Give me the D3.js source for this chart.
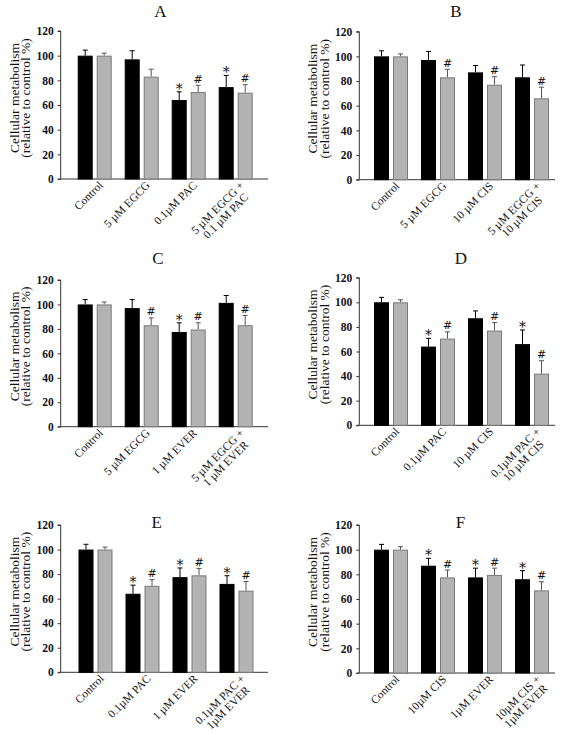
<!DOCTYPE html>
<html><head><meta charset="utf-8">
<script src="https://cdn.jsdelivr.net/npm/d3@7"></script>
<style>
body{margin:0;background:#fff;}
svg{display:block;font-family:"Liberation Serif","Times New Roman",serif;}
</style></head>
<body><svg id="c" width="567" height="735"></svg>
<script>
// ---------- DATA ----------
const yTicks = [0, 20, 40, 60, 80, 100, 120];
const yTitle = ["Cellular metabolism", "(relative to control %)"];

const catsA = ["Control", "5 µM EGCG", "0.1µM PAC", "5 µM EGCG +|0.1 µM PAC"];
const blackA = [100, 97, 64, 74.5];
const blackErrA = [4.5, 7, 6.7, 9.5];
const grayA = [100, 83, 70.5, 70];
const grayErrA = [2, 6, 5.5, 6.5];
const sigBlackA = ["", "", "*", "*"];
const sigGrayA = ["", "", "#", "#"];

const catsB = ["Control", "5 µM EGCG", "10 µM CIS", "5 µM EGCG +|10 µM CIS"];
const blackB = [100, 97, 87, 83];
const blackErrB = [4.5, 7, 5.6, 10];
const grayB = [100, 83, 77, 66];
const grayErrB = [2, 6.5, 6.5, 9];
const sigBlackB = ["", "", "", ""];
const sigGrayB = ["", "#", "#", "#"];

const catsC = ["Control", "5 µM EGCG", "1 µM EVER", "5 µM EGCG +|1 µM EVER"];
const blackC = [100, 97, 77.5, 101.3];
const blackErrC = [4, 7, 7.5, 6];
const grayC = [100, 83, 79.5, 83];
const grayErrC = [2, 6, 5.5, 8];
const sigBlackC = ["", "", "*", ""];
const sigGrayC = ["", "#", "#", "#"];

const catsD = ["Control", "0.1µM PAC", "10 µM CIS", "0.1µM PAC +|10 µM CIS"];
const blackD = [100, 64, 87, 66];
const blackErrD = [4, 6.7, 6, 11.5];
const grayD = [100, 70.5, 77, 42];
const grayErrD = [2, 5.5, 6.5, 10.5];
const sigBlackD = ["", "*", "", "*"];
const sigGrayD = ["", "#", "#", "#"];

const catsE = ["Control", "0.1µM PAC", "1 µM EVER", "0.1µM PAC +|1µM EVER"];
const blackE = [100, 64, 77.5, 72];
const blackErrE = [4.3, 7, 7.5, 6.7];
const grayE = [100, 70.5, 79, 66.5];
const grayErrE = [2, 5, 5.5, 7.5];
const sigBlackE = ["", "*", "*", "*"];
const sigGrayE = ["", "#", "#", "#"];

const catsF = ["Control", "10µM CIS", "1µM EVER", "10µM CIS +|1µM EVER"];
const blackF = [100, 87, 77.5, 76];
const blackErrF = [4.3, 6, 7.5, 7];
const grayF = [100, 77.5, 79.5, 67];
const grayErrF = [2.4, 6, 5.5, 7];
const sigBlackF = ["", "*", "*", "*"];
const sigGrayF = ["", "#", "#", "#"];

// ---------- LAYOUT ----------
const panels = [
  {id:"A", cats:catsA, b:blackA, be:blackErrA, g:grayA, ge:grayErrA, sb:sigBlackA, sg:sigGrayA,
   x0:60.7, x1:268, y0:179, yTop:31, first:94.7, tx:160.5, ty:16.5},
  {id:"B", cats:catsB, b:blackB, be:blackErrB, g:grayB, ge:grayErrB, sb:sigBlackB, sg:sigGrayB,
   x0:359.3, x1:555, y0:179.7, yTop:31.7, first:391, tx:456, ty:16.5},
  {id:"C", cats:catsC, b:blackC, be:blackErrC, g:grayC, ge:grayErrC, sb:sigBlackC, sg:sigGrayC,
   x0:60.7, x1:268, y0:426.7, yTop:280, first:94.7, tx:158, ty:264},
  {id:"D", cats:catsD, b:blackD, be:blackErrD, g:grayD, ge:grayErrD, sb:sigBlackD, sg:sigGrayD,
   x0:359.3, x1:555, y0:425.3, yTop:277.7, first:391, tx:461, ty:264},
  {id:"E", cats:catsE, b:blackE, be:blackErrE, g:grayE, ge:grayErrE, sb:sigBlackE, sg:sigGrayE,
   x0:60.7, x1:268, y0:672.3, yTop:525, first:95.5, tx:156.7, ty:528},
  {id:"F", cats:catsF, b:blackF, be:blackErrF, g:grayF, ge:grayErrF, sb:sigBlackF, sg:sigGrayF,
   x0:359.3, x1:555, y0:673, yTop:525, first:391, tx:460.5, ty:528}
];

const svg = d3.select("#c");
const barW = 15, gap = 2, capW = 5;
const grayFill = "#b3b3b3", grayStroke = "#7a7a7a";

panels.forEach(p => {
  const g = svg.append("g");
  const y = d3.scaleLinear().domain([0, 120]).range([p.y0, p.yTop]);
  const x = d3.scalePoint().domain(p.cats).range([p.first, p.first + 3 * 47]);

  // title
  g.append("text").attr("x", p.tx).attr("y", p.ty).attr("text-anchor", "middle")
    .attr("font-size", 17).attr("fill", "#111").text(p.id);

  // y axis
  const ya = g.append("g").attr("transform", `translate(${p.x0},0)`)
    .call(d3.axisLeft(y).tickValues(yTicks).tickSize(3).tickPadding(4));
  ya.select(".domain").attr("stroke", "#333").attr("d", `M-3,${p.y0}H0V${p.yTop}H-3`);
  ya.selectAll(".tick line").attr("stroke", "#333");
  ya.selectAll(".tick text").attr("font-size", 11.5).attr("fill", "#111")
    .attr("font-family", "Liberation Serif, serif").attr("font-weight", "bold");

  // y title
  const cy = (p.y0 + p.yTop) / 2 - 7;
  yTitle.forEach((t, i) => {
    g.append("text").attr("transform", `translate(${p.x0 - 42 + i * 11.5},${cy}) rotate(-90)`)
      .attr("text-anchor", "middle").attr("font-size", 13.5).attr("fill", "#111").text(t);
  });

  // x axis line
  g.append("line").attr("x1", p.x0).attr("x2", p.x1).attr("y1", p.y0).attr("y2", p.y0)
    .attr("stroke", "#333").attr("stroke-width", 1);

  // bars
  const rows = p.cats.map((c, i) => ({c, b:p.b[i], be:p.be[i], g:p.g[i], ge:p.ge[i], sb:p.sb[i], sg:p.sg[i]}));
  const series = [
    {key:"b", err:"be", sig:"sb", dx:-gap - barW, fill:"#000", stroke:"#000", ec:"#000"},
    {key:"g", err:"ge", sig:"sg", dx:gap, fill:grayFill, stroke:grayStroke, ec:"#555"}
  ];
  series.forEach(s => {
    g.selectAll(null).data(rows).enter().append("path")
      .attr("d", d => {
        const cx = x(d.c) + s.dx + barW / 2;
        const top = y(d[s.key] + d[s.err]);
        return `M${cx},${y(d[s.key])}V${top}M${cx - capW / 2},${top}H${cx + capW / 2}`;
      })
      .attr("stroke", s.ec).attr("stroke-width", 1).attr("fill", "none");
    g.selectAll(null).data(rows).enter().append("rect")
      .attr("x", d => x(d.c) + s.dx + 0.5)
      .attr("y", d => y(d[s.key]) + 0.5)
      .attr("width", barW - 1)
      .attr("height", d => y(0) - y(d[s.key]) - 0.5)
      .attr("fill", s.fill).attr("stroke", s.stroke).attr("stroke-width", 1);
    g.selectAll(null).data(rows.filter(d => d[s.sig])).enter().append("text")
      .attr("x", d => x(d.c) + s.dx + barW / 2)
      .attr("y", d => y(d[s.key] + d[s.err]) - (d[s.sig] === "*" ? -2 : 2.5))
      .attr("text-anchor", "middle")
      .attr("font-family", "DejaVu Serif, serif")
      .attr("font-size", d => d[s.sig] === "*" ? 14 : 11)
      .attr("fill", "#111")
      .text(d => d[s.sig]);
  });

  // x labels
  rows.forEach(d => {
    const lines = d.c.split("|");
    const lg = g.append("g").attr("transform", `translate(${x(d.c) + 9},${p.y0 + 7}) rotate(-45)`);
    const texts = lines.map((t, i) => lg.append("text").attr("x", 0).attr("y", i * 11.5)
      .attr("text-anchor", "end").attr("font-size", 11.5).attr("fill", "#111").text(t));
    if (texts.length > 1) {
      const ws = texts.map(t => t.node().getComputedTextLength());
      const wmax = Math.max(...ws);
      texts.forEach((t, i) => t.attr("x", -(wmax - ws[i]) / 2));
    }
  });
});
</script>
</body></html>
